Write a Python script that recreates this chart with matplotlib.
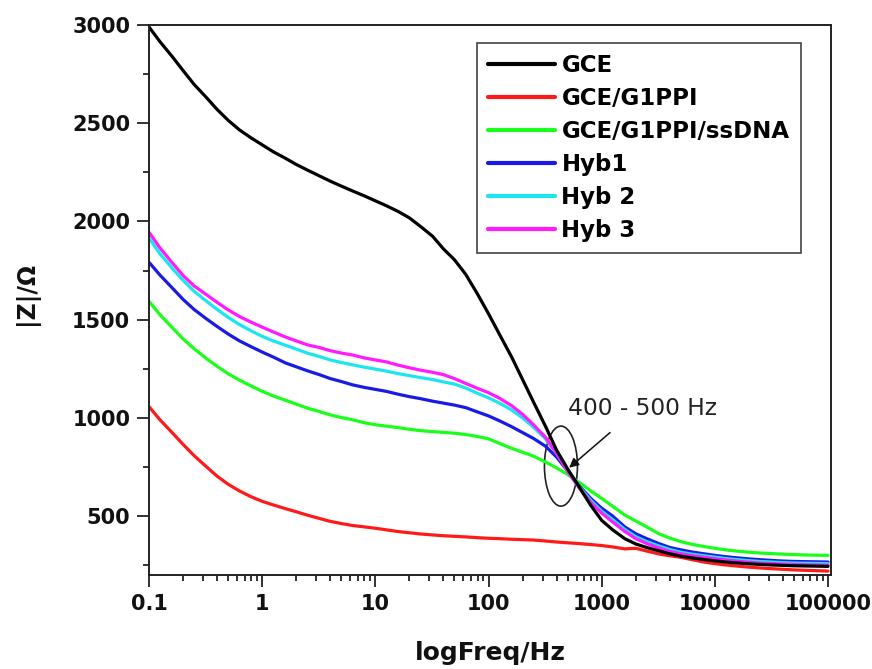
import matplotlib
matplotlib.use("Agg")
import matplotlib.pyplot as plt
from matplotlib.patches import Ellipse
from matplotlib.ticker import LogLocator, MultipleLocator, FixedLocator, FixedFormatter, NullFormatter

# Frequency grid (Hz) shared by all impedance sweeps, ten points per decade
freq = [0.1, 0.125, 0.16, 0.2, 0.25, 0.32, 0.4, 0.5, 0.63, 0.8,
        1, 1.25, 1.6, 2, 2.5, 3.2, 4, 5, 6.3, 8,
        10, 12.5, 16, 20, 25, 32, 40, 50, 63, 80,
        100, 125, 160, 200, 250, 320, 400, 500, 630, 800,
        1000, 1250, 1600, 2000, 2500, 3200, 4000, 5000, 6300, 8000,
        10000, 12500, 16000, 20000, 25000, 32000, 40000, 50000, 63000, 80000,
        100000]

# |Z| (ohm) for each electrode
z_gce = [2990, 2915, 2840, 2768, 2698, 2632, 2570, 2515, 2466, 2425,
         2390, 2355, 2322, 2290, 2262, 2232, 2205, 2180, 2155, 2130,
         2105, 2080, 2050, 2018, 1975, 1925, 1860, 1805, 1730, 1630,
         1530, 1425, 1310, 1195, 1080, 955, 835, 740, 650, 555,
         478, 430, 385, 358, 340, 323, 308, 296, 287, 279,
         272, 266, 261, 257, 254, 251, 249, 247, 246, 245,
         244]
z_g1ppi = [1057, 990, 925, 865, 808, 752, 703, 662, 628, 598,
           575, 557, 538, 522, 505, 488, 473, 462, 452, 445,
           438, 430, 421, 415, 409, 404, 400, 397, 394, 390,
           387, 385, 382, 380, 378, 373, 368, 364, 360, 355,
           350, 343, 333, 336, 322, 307, 298, 290, 278, 266,
           258, 251, 245, 240, 236, 232, 229, 226, 224, 222,
           220]
z_ssdna = [1593, 1525, 1460, 1402, 1352, 1303, 1262, 1225, 1192, 1162,
           1135, 1112, 1090, 1070, 1050, 1032, 1015, 1002, 990, 975,
           965, 958, 950, 942, 935, 930, 926, 922, 915, 905,
           893, 870, 845, 825, 805, 775, 745, 712, 672, 628,
           590, 550, 505, 475, 445, 410, 388, 370, 356, 345,
           336, 328, 321, 316, 312, 309, 306, 304, 302, 301,
           300]
z_hyb1 = [1792, 1727, 1662, 1603, 1552, 1505, 1465, 1427, 1392, 1362,
          1335, 1310, 1280, 1260, 1240, 1220, 1200, 1185, 1168, 1155,
          1145, 1135, 1120, 1108, 1098, 1085, 1075, 1065, 1052, 1030,
          1010, 985, 955, 925, 895, 855, 800, 730, 655, 590,
          540, 500, 445, 410, 385, 360, 340, 328, 317, 308,
          300, 293, 287, 282, 278, 274, 271, 269, 268, 267,
          266]
z_hyb2 = [1915, 1835, 1762, 1700, 1645, 1595, 1552, 1512, 1475, 1443,
          1415, 1392, 1370, 1350, 1330, 1312, 1295, 1282, 1270, 1258,
          1248, 1238, 1225, 1215, 1205, 1195, 1183, 1172, 1152, 1125,
          1102, 1075, 1040, 1000, 952, 892, 818, 732, 650, 580,
          525, 482, 432, 395, 370, 348, 330, 316, 306, 298,
          291, 284, 278, 273, 269, 266, 263, 261, 260, 259,
          258]
z_hyb3 = [1945, 1865, 1790, 1725, 1672, 1628, 1588, 1550, 1516, 1487,
          1462, 1438, 1412, 1392, 1372, 1358, 1342, 1330, 1320, 1305,
          1295, 1285, 1268, 1255, 1243, 1232, 1220, 1200, 1175, 1150,
          1128, 1100, 1062, 1018, 965, 900, 820, 728, 645, 570,
          515, 470, 422, 385, 360, 338, 320, 308, 298, 290,
          283, 276, 270, 265, 261, 258, 255, 253, 252, 251,
          250]

labels = ["GCE", "GCE/G1PPI", "GCE/G1PPI/ssDNA", "Hyb1", "Hyb 2", "Hyb 3"]
series = [z_gce, z_g1ppi, z_ssdna, z_hyb1, z_hyb2, z_hyb3]
colors = ["#000000", "#ff1a1a", "#1aff1a", "#1a1ae6", "#1ae6f0", "#ff1aff"]

x_ticks = [0.1, 1, 10, 100, 1000, 10000, 100000]
x_ticklabels = ["0.1", "1", "10", "100", "1000", "10000", "100000"]
y_ticks = [500, 1000, 1500, 2000, 2500, 3000]

plt.rcParams["font.family"] = ["DejaVu Sans"]

fig = plt.figure(figsize=(8.72, 6.69), dpi=100)
ax = fig.add_axes([0.1709, 0.1405, 0.9530 - 0.1709, 0.9626 - 0.1405])

# Draw back to front so the GCE trace sits on top
order = [2, 1, 3, 4, 5, 0]
handles = {}
for i in order:
    (ln,) = ax.plot(freq, series[i], color=colors[i], lw=2.3, label=labels[i],
                    solid_joinstyle="round", solid_capstyle="round")
    handles[i] = ln

ax.set_xscale("log")
ax.set_xlim(0.1, 1.063e5)
ax.set_ylim(200, 3000)

ax.xaxis.set_major_locator(FixedLocator(x_ticks))
ax.xaxis.set_major_formatter(FixedFormatter(x_ticklabels))
ax.xaxis.set_minor_locator(LogLocator(base=10, subs=range(2, 10), numticks=20))
ax.xaxis.set_minor_formatter(NullFormatter())
ax.yaxis.set_major_locator(FixedLocator(y_ticks))
ax.yaxis.set_minor_locator(MultipleLocator(250))

ax.tick_params(which="both", direction="out", top=False, right=False, width=1.3,
               color="#222222")
ax.tick_params(which="major", length=8.5, labelsize=15, pad=5)
ax.tick_params(which="minor", length=4.5)
for lab in ax.get_xticklabels() + ax.get_yticklabels():
    lab.set_fontweight("bold")
    lab.set_color("#111111")

for sp in ax.spines.values():
    sp.set_linewidth(1.4)
    sp.set_color("#222222")

ax.set_xlabel("logFreq/Hz", fontsize=18, fontweight="bold", color="#111111")
ax.xaxis.set_label_coords(0.5, -0.12)
ax.set_ylabel("|Z|/Ω", fontsize=17, fontweight="bold", color="#111111")
ax.yaxis.set_label_coords(-0.162, 0.512)

leg = ax.legend([handles[i] for i in range(6)], labels, loc="upper left",
                bbox_to_anchor=(0.481, 0.968), fancybox=False, framealpha=1,
                edgecolor="#333333", prop={"weight": "bold", "size": 16.5},
                handlelength=2.9, handletextpad=0.3, labelspacing=0.44,
                borderpad=0.48, borderaxespad=0.0)
leg.get_frame().set_linewidth(1.1)
for ln in leg.get_lines():
    ln.set_linewidth(3.0)

# Highlight the crossover region
ell = Ellipse((0.604, 0.198), 0.0484, 0.1455, transform=ax.transAxes, fill=False,
              edgecolor="#222222", lw=1.2, angle=0)
ax.add_patch(ell)
ax.annotate("", xy=(0.616, 0.195), xycoords="axes fraction",
            xytext=(0.676, 0.259), textcoords="axes fraction",
            arrowprops=dict(arrowstyle="-|>", color="#111111", lw=1.1,
                            mutation_scale=14, shrinkA=0, shrinkB=0))
ax.text(0.614, 0.302, "400 - 500 Hz", transform=ax.transAxes, fontsize=16.8,
        color="#222222", ha="left", va="center")

fig.savefig("out.png", dpi=100)
